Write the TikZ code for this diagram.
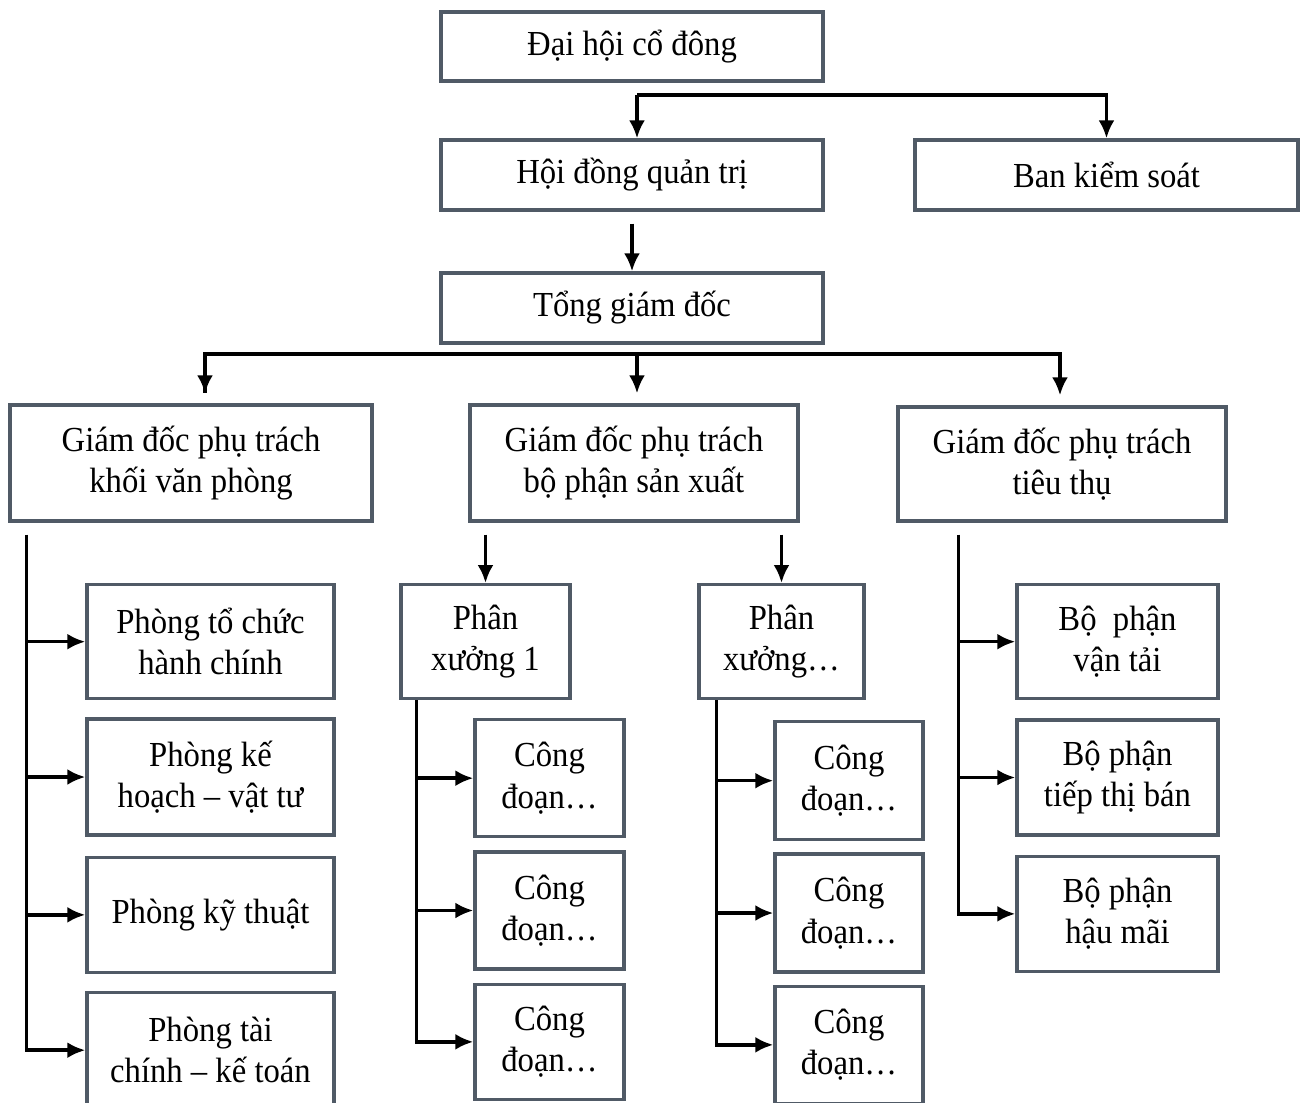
\documentclass[tikz,border=0pt]{standalone}
\usepackage{fontspec}
\setmainfont{Liberation Serif}[FakeStretch=0.93]
\usetikzlibrary{arrows.meta,positioning}
\definecolor{boxline}{RGB}{80,90,102}

\begin{document}
\begin{tikzpicture}[font=\fontsize{10}{11.8}\selectfont, node distance=0.17cm,
  box/.style={draw=boxline, line width=0.95pt, fill=white, align=center, inner sep=1pt},
  arr/.style={-{Latex[length=1.8mm,width=1.6mm]}, line width=1pt}]
\useasboundingbox (0,0) rectangle (13.07,-11.02);
\node[box, minimum width=3.82cm, minimum height=0.69cm] (dh) at (6.32,-0.465) {Đại hội cổ đông};
\node[box, minimum width=3.82cm, minimum height=0.7cm] (hd) at (6.32,-1.75) {Hội đồng quản trị};
\node[box, minimum width=3.83cm, minimum height=0.7cm] (bks) at (11.065,-1.75) {Ban kiểm soát};
\node[box, minimum width=3.82cm, minimum height=0.7cm] (tgd) at (6.32,-3.08) {Tổng giám đốc};
\node[box, minimum width=3.62cm, minimum height=1.16cm] (gvp) at (1.91,-4.63) {Giám đốc phụ trách\\khối văn phòng};
\node[box, minimum width=3.28cm, minimum height=1.16cm] (gsx) at (6.34,-4.63) {Giám đốc phụ trách\\bộ phận sản xuất};
\node[box, minimum width=3.28cm, minimum height=1.14cm] (gtt) at (10.62,-4.64) {Giám đốc phụ trách\\tiêu thụ};
\node[box, minimum width=2.47cm, minimum height=1.14cm, anchor=north] (p1) at (2.105,-5.83) {Phòng tổ chức\\hành chính};
\node[box, minimum width=2.47cm, minimum height=1.16cm, below=of p1] (p2) {Phòng kế\\hoạch – vật tư};
\node[box, minimum width=2.47cm, minimum height=1.15cm, below=0.19cm of p2] (p3) {Phòng kỹ thuật};
\node[box, minimum width=2.47cm, minimum height=1.15cm, below=of p3] (p4) {Phòng tài\\chính – kế toán};
\node[box, minimum width=1.69cm, minimum height=1.14cm, anchor=north] (px1) at (4.855,-5.83) {Phân\\xưởng 1};
\node[box, minimum width=1.49cm, minimum height=1.17cm, anchor=north] (c11) at (5.495,-7.18) {Công\\đoạn…};
\node[box, minimum width=1.49cm, minimum height=1.17cm, below=0.12cm of c11] (c12) {Công\\đoạn…};
\node[box, minimum width=1.49cm, minimum height=1.15cm, below=0.12cm of c12] (c13) {Công\\đoạn…};
\node[box, minimum width=1.65cm, minimum height=1.14cm, anchor=north] (px2) at (7.815,-5.83) {Phân\\xưởng…};
\node[box, minimum width=1.48cm, minimum height=1.18cm, anchor=north] (c21) at (8.49,-7.2) {Công\\đoạn…};
\node[box, minimum width=1.48cm, minimum height=1.18cm, below=0.11cm of c21] (c22) {Công\\đoạn…};
\node[box, minimum width=1.48cm, minimum height=1.17cm, below=0.11cm of c22] (c23) {Công\\đoạn…};
\node[box, minimum width=2.01cm, minimum height=1.14cm, anchor=north] (b1) at (11.175,-5.83) {Bộ\ \ phận\\vận tải};
\node[box, minimum width=2.01cm, minimum height=1.15cm, below=0.18cm of b1] (b2) {Bộ phận\\tiếp thị bán};
\node[box, minimum width=2.01cm, minimum height=1.15cm, below=0.18cm of b2] (b3) {Bộ phận\\hậu mãi};
\coordinate (s1) at (6.37,-0.95);
\draw[arr] (s1) -- (s1 |- hd.north);
\draw[arr] (s1) -| (bks.north);
\draw[arr] ([yshift=-1.2mm]hd.south) -- (tgd.north);
\coordinate (s2) at (6.37,-3.54);
\coordinate (t1) at ([xshift=1.4mm,yshift=1mm]gvp.north);
\coordinate (t3) at ([xshift=-0.2mm,yshift=1mm]gtt.north);
\draw[line width=1pt] (s2) -| (t1);
\draw[arr] (s2 -| t1) -- (t1);
\draw[arr] (s2) -- (s2 |- t1);
\draw[arr] (s2) -| (t3);
\coordinate (l1) at ([xshift=1.8mm,yshift=-1.2mm]gvp.south west);
\draw[arr] (l1) |- (p4.west);
\draw[arr] (l1 |- p1.west) -- (p1.west);
\draw[arr] (l1 |- p2.west) -- (p2.west);
\draw[arr] (l1 |- p3.west) -- (p3.west);
\coordinate (g1) at ([yshift=-1.2mm]gsx.south);
\draw[arr] (g1 -| px1.north) -- (px1.north);
\draw[arr] (g1 -| px2.north) -- (px2.north);
\coordinate (l2) at ([xshift=1.7mm]px1.south west);
\draw[arr] (l2) |- (c13.west);
\draw[arr] (l2 |- c11.west) -- (c11.west);
\draw[arr] (l2 |- c12.west) -- (c12.west);
\coordinate (l3) at ([xshift=1.9mm]px2.south west);
\draw[arr] (l3) |- (c23.west);
\draw[arr] (l3 |- c21.west) -- (c21.west);
\draw[arr] (l3 |- c22.west) -- (c22.west);
\coordinate (l4) at ([xshift=6.2mm,yshift=-1.2mm]gtt.south west);
\draw[arr] (l4) |- (b3.west);
\draw[arr] (l4 |- b1.west) -- (b1.west);
\draw[arr] (l4 |- b2.west) -- (b2.west);
\end{tikzpicture}
\end{document}
